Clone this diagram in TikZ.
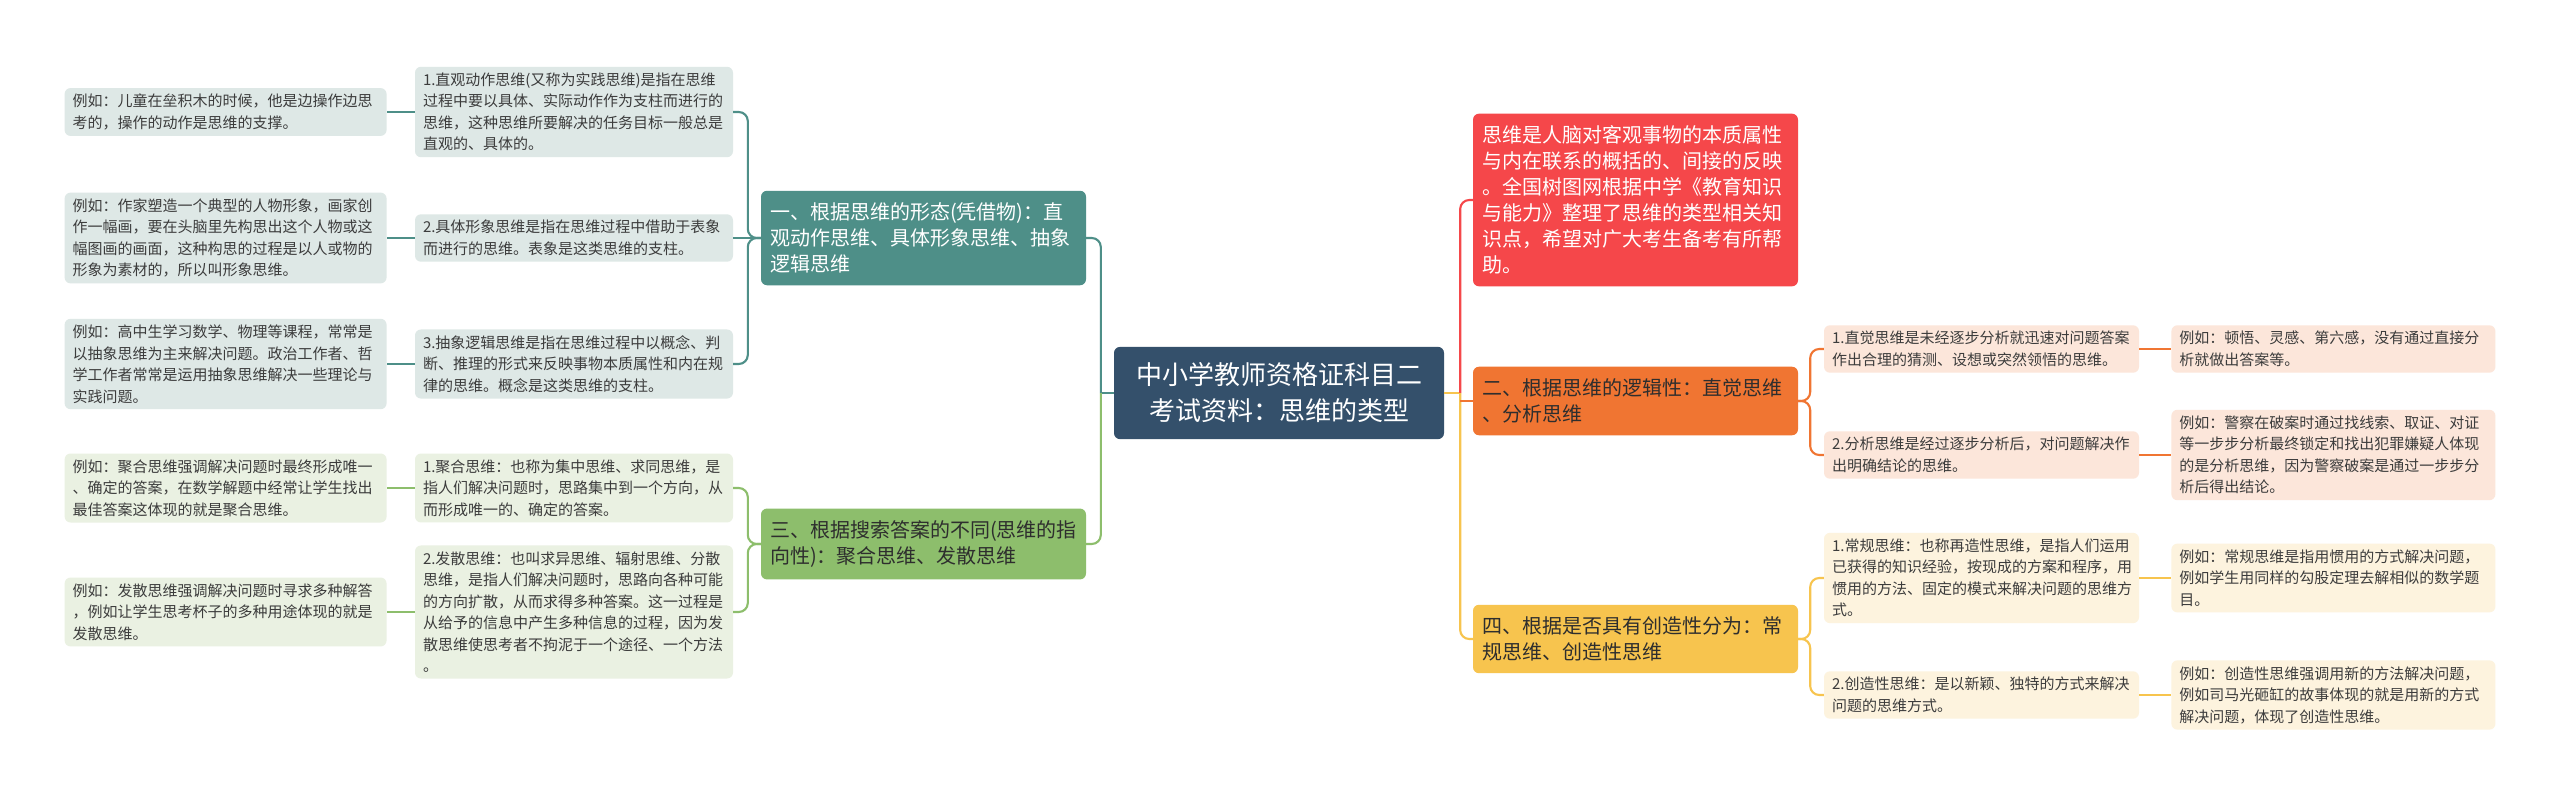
\documentclass[tikz,border=0pt]{standalone}
\usepackage{fontspec}
\setmainfont{Noto Sans CJK SC}
\usepackage{xcolor}
\usetikzlibrary{positioning, calc}
\definecolor{rootblue}{HTML}{34506B}
\definecolor{tealdark}{HTML}{4E8F88}
\definecolor{teallight}{HTML}{DEE8E6}
\definecolor{greendark}{HTML}{8DBE6C}
\definecolor{greenlight}{HTML}{EAF1E2}
\definecolor{reddark}{HTML}{F5474A}
\definecolor{orangedark}{HTML}{F07532}
\definecolor{orangelight}{HTML}{FCE6DA}
\definecolor{yellowdark}{HTML}{F7C44E}
\definecolor{yellowlight}{HTML}{FDF3DE}
\definecolor{inktext}{HTML}{2E2E2E}
\definecolor{leaftext}{HTML}{3C3C3C}

\begin{document}
\begin{tikzpicture}[x=1pt, y=-1pt,
    topic/.style={rectangle, rounded corners=6pt, fill=rootblue, text=white, text width=310pt,
                  align=center, inner xsep=10pt, inner ysep=16pt, font=\fontsize{26}{36}\selectfont},
    branch/.style={rectangle, rounded corners=6pt, fill=#1, text=inktext, text width=307pt,
                   align=left, inner xsep=9pt, inner ysep=12pt, font=\fontsize{20}{26}\selectfont},
    leaf/.style={rectangle, rounded corners=6pt, fill=#1, text=leaftext, text width=302pt,
                 align=left, inner xsep=8pt, inner ysep=6pt, font=\fontsize{15}{21.5}\selectfont},
    link/.style={draw=#1, line width=2.1pt, rounded corners=9pt}
]
\useasboundingbox (0,0) rectangle (2560,800);
\fill[white] (0,0) rectangle (2560,800);

% centre and main branches
\node[topic] (root) at (1279,393) {中小学教师资格证科目二\\考试资料：思维的类型};
\node[branch=tealdark, text=white] (form) at (923.5,238) {一、根据思维的形态(凭借物)：直\\观动作思维、具体形象思维、抽象\\逻辑思维};
\node[branch=greendark] (search) at (923.5,544) {三、根据搜索答案的不同(思维的指\\向性)：聚合思维、发散思维};
\node[branch=reddark, text=white] (intro) at (1635.5,200) {思维是人脑对客观事物的本质属性\\与内在联系的概括的、间接的反映\\。全国树图网根据中学《教育知识\\与能力》整理了思维的类型相关知\\识点，希望对广大考生备考有所帮\\助。};
\node[branch=orangedark] (logic) at (1635.5,401) {二、根据思维的逻辑性：直觉思维\\、分析思维};
\node[branch=yellowdark] (create) at (1635.5,639) {四、根据是否具有创造性分为：常\\规思维、创造性思维};

% left leaves
\node[leaf=teallight] (act) at (574,112) {1.直观动作思维(又称为实践思维)是指在思维\\过程中要以具体、实际动作作为支柱而进行的\\思维，这种思维所要解决的任务目标一般总是\\直观的、具体的。};
\node[leaf=teallight] (image) at (574,238) {2.具体形象思维是指在思维过程中借助于表象\\而进行的思维。表象是这类思维的支柱。};
\node[leaf=teallight] (abstract) at (574,364) {3.抽象逻辑思维是指在思维过程中以概念、判\\断、推理的形式来反映事物本质属性和内在规\\律的思维。概念是这类思维的支柱。};
\node[leaf=greenlight] (conv) at (574,488) {1.聚合思维：也称为集中思维、求同思维，是\\指人们解决问题时，思路集中到一个方向，从\\而形成唯一的、确定的答案。};
\node[leaf=greenlight] (div) at (574,612) {2.发散思维：也叫求异思维、辐射思维、分散\\思维，是指人们解决问题时，思路向各种可能\\的方向扩散，从而求得多种答案。这一过程是\\从给予的信息中产生多种信息的过程，因为发\\散思维使思考者不拘泥于一个途径、一个方法\\。};

\node[leaf=teallight, text width=306pt, left=28pt of act] (actex) {例如：儿童在垒积木的时候，他是边操作边思\\考的，操作的动作是思维的支撑。};
\node[leaf=teallight, text width=306pt, left=28pt of image] (imageex) {例如：作家塑造一个典型的人物形象，画家创\\作一幅画，要在头脑里先构思出这个人物或这\\幅图画的画面，这种构思的过程是以人或物的\\形象为素材的，所以叫形象思维。};
\node[leaf=teallight, text width=306pt, left=28pt of abstract] (abstractex) {例如：高中生学习数学、物理等课程，常常是\\以抽象思维为主来解决问题。政治工作者、哲\\学工作者常常是运用抽象思维解决一些理论与\\实践问题。};
\node[leaf=greenlight, text width=306pt, left=28pt of conv] (convex) {例如：聚合思维强调解决问题时最终形成唯一\\、确定的答案，在数学解题中经常让学生找出\\最佳答案这体现的就是聚合思维。};
\node[leaf=greenlight, text width=306pt, left=28pt of div] (divex) {例如：发散思维强调解决问题时寻求多种解答\\，例如让学生思考杯子的多种用途体现的就是\\发散思维。};

% right leaves
\node[leaf=orangelight, text width=299pt] (intuit) at (1981.5,349) {1.直觉思维是未经逐步分析就迅速对问题答案\\作出合理的猜测、设想或突然领悟的思维。};
\node[leaf=orangelight, text width=299pt] (analy) at (1981.5,455) {2.分析思维是经过逐步分析后，对问题解决作\\出明确结论的思维。};
\node[leaf=yellowlight, text width=299pt] (routine) at (1981.5,578) {1.常规思维：也称再造性思维，是指人们运用\\已获得的知识经验，按现成的方案和程序，用\\惯用的方法、固定的模式来解决问题的思维方\\式。};
\node[leaf=yellowlight, text width=299pt] (novel) at (1981.5,695) {2.创造性思维：是以新颖、独特的方式来解决\\问题的思维方式。};

\node[leaf=orangelight, text width=308pt, right=32pt of intuit] (intuitex) {例如：顿悟、灵感、第六感，没有通过直接分\\析就做出答案等。};
\node[leaf=orangelight, text width=308pt, right=32pt of analy] (analyex) {例如：警察在破案时通过找线索、取证、对证\\等一步步分析最终锁定和找出犯罪嫌疑人体现\\的是分析思维，因为警察破案是通过一步步分\\析后得出结论。};
\node[leaf=yellowlight, text width=308pt, right=32pt of routine] (routineex) {例如：常规思维是指用惯用的方式解决问题，\\例如学生用同样的勾股定理去解相似的数学题\\目。};
\node[leaf=yellowlight, text width=308pt, right=32pt of novel] (novelex) {例如：创造性思维强调用新的方法解决问题，\\例如司马光砸缸的故事体现的就是用新的方式\\解决问题，体现了创造性思维。};

% connectors
\coordinate (lj) at ($(root.west)+(-13,0)$);
\coordinate (rj) at ($(root.east)+(16,0)$);
\draw[link=tealdark] (root.west) -- (lj);
\draw[link=tealdark] (lj) |- (form.east);
\draw[link=greendark] (lj) |- (search.east);
\draw[link=yellowdark] (root.east) -- (rj);
\draw[link=reddark] (rj) |- (intro.west);
\draw[link=yellowdark] (rj) |- (create.west);
\draw[link=orangedark] (rj |- logic.west) -- (logic.west);

\foreach \n in {act,abstract} \draw[link=tealdark] (form.west) -- ++(-13,0) |- (\n.east);
\draw[link=tealdark] (form.west) -- (image.east);
\foreach \n in {conv,div} \draw[link=greendark] (search.west) -- ++(-13,0) |- (\n.east);
\foreach \n in {intuit,analy} \draw[link=orangedark] (logic.east) -- ++(12,0) |- (\n.west);
\foreach \n in {routine,novel} \draw[link=yellowdark] (create.east) -- ++(12,0) |- (\n.west);

\foreach \a in {act,image,abstract} \draw[link=tealdark] (\a.west) -- (\a ex.east);
\foreach \a in {conv,div} \draw[link=greendark] (\a.west) -- (\a ex.east);
\foreach \a in {intuit,analy} \draw[link=orangedark] (\a.east) -- (\a ex.west);
\foreach \a in {routine,novel} \draw[link=yellowdark] (\a.east) -- (\a ex.west);
\end{tikzpicture}
\end{document}
